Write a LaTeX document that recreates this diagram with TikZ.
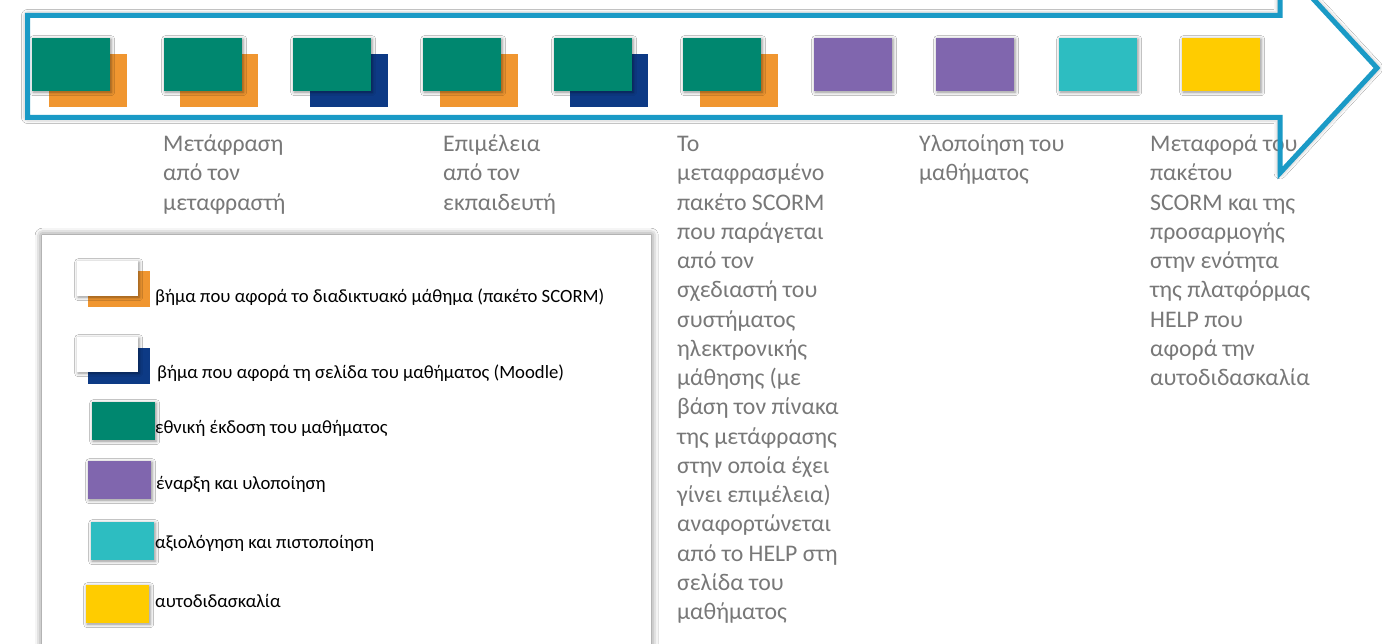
\documentclass[tikz,border=0pt]{standalone}
\usepackage{fontspec}
\setmainfont{Carlito}
\usetikzlibrary{shadows.blur}
\definecolor{cgreen}{RGB}{0,135,111}
\definecolor{corange}{RGB}{240,150,48}
\definecolor{cnavy}{RGB}{13,58,133}
\definecolor{cpurple}{RGB}{128,102,174}
\definecolor{ccyan}{RGB}{45,189,193}
\definecolor{cyellow}{RGB}{255,204,0}
\definecolor{carrow}{RGB}{26,154,198}
\definecolor{ctext}{RGB}{120,120,120}
\begin{document}
\begin{tikzpicture}[x=1pt,y=-1pt,
  box/.style={rectangle, inner sep=0pt, minimum width=78pt, minimum height=53pt, anchor=north west},
  sbox/.style={box, blur shadow={shadow xshift=1pt, shadow yshift=-1pt, shadow blur radius=3.5pt, shadow opacity=45}},
  lbox/.style={rectangle, inner sep=0pt, minimum width=62pt, minimum height=36pt, anchor=north west},
  slbox/.style={lbox, blur shadow={shadow xshift=1pt, shadow yshift=-1pt, shadow blur radius=3.5pt, shadow opacity=45}},
  lab/.style={anchor=north west, inner sep=0pt, align=left, text=ctext, font=\fontsize{23.8}{29.25}\selectfont},
  ltxt/.style={anchor=west, inner sep=0pt, text=black, font=\fontsize{18.7}{22}\selectfont},
]
\useasboundingbox (0,0) rectangle (1382,644);
\fill[white] (0,0) rectangle (1382,644);

% arrow body (fill + shadow)
\path[fill=white, blur shadow={shadow xshift=0pt, shadow yshift=0pt, shadow blur radius=6pt, shadow opacity=50}]
  (27.5,15.5) -- (1280,15.5) -- (1280,-37) -- (1377,68) -- (1280,173) -- (1280,117.5) -- (27.5,117.5) -- cycle;

% legend panel
\node[rectangle, draw=none, fill=white, anchor=north west, inner sep=0pt, minimum width=609pt, minimum height=430pt,
  blur shadow={shadow xshift=0pt, shadow yshift=0pt, shadow blur radius=7pt, shadow opacity=60}] (legend) at (42,235) {};

% top step boxes
\node[box, fill=corange] (b1b) at (49,54) {};
\node[sbox, fill=cgreen] (b1) at (32,38) {};
\node[box, fill=corange] (b2b) at (180,54) {};
\node[sbox, fill=cgreen] (b2) at (164,38) {};
\node[box, fill=cnavy] (b3b) at (310,54) {};
\node[sbox, fill=cgreen] (b3) at (293,38) {};
\node[box, fill=corange] (b4b) at (440,54) {};
\node[sbox, fill=cgreen] (b4) at (423,38) {};
\node[box, fill=cnavy] (b5b) at (570,54) {};
\node[sbox, fill=cgreen] (b5) at (554,38) {};
\node[box, fill=corange] (b6b) at (700,54) {};
\node[sbox, fill=cgreen] (b6) at (683,38) {};
\node[sbox, fill=cpurple] (b7) at (814,38) {};
\node[sbox, fill=cpurple] (b8) at (936,38) {};
\node[sbox, fill=ccyan] (b9) at (1059,38) {};
\node[sbox, fill=cyellow] (b10) at (1182,38) {};

% labels under the arrow
\node[lab] (t1) at (163,131) {\strut Μετάφραση\\από τον\\μεταφραστή};
\node[lab] (t2) at (443,131) {\strut Επιμέλεια\\από τον\\εκπαιδευτή};
\node[lab] (t3) at (677,131) {\strut Το\\μεταφρασμένο\\πακέτο SCORM\\που παράγεται\\από τον\\σχεδιαστή του\\συστήματος\\ηλεκτρονικής\\μάθησης (με\\βάση τον πίνακα\\της μετάφρασης\\στην οποία έχει\\γίνει επιμέλεια)\\αναφορτώνεται\\από το HELP στη\\σελίδα του\\μαθήματος};
\node[lab] (t4) at (919,131) {\strut Υλοποίηση του\\μαθήματος};
\node[lab] (t5) at (1150,131) {\strut Μεταφορά του\\πακέτου\\SCORM και της\\προσαρμογής\\στην ενότητα\\της πλατφόρμας\\HELP που\\αφορά την\\αυτοδιδασκαλία};

% arrow outline on top
\draw[carrow, line width=5pt, line join=miter]
  (27.5,15.5) -- (1280,15.5) -- (1280,-37) -- (1377,68) -- (1280,173) -- (1280,117.5) -- (27.5,117.5) -- cycle;

% legend items
\node[lbox, fill=corange] (l1b) at (88,271) {};
\node[slbox, fill=white, minimum width=61pt, minimum height=35pt] (l1) at (77,261) {};
\node[ltxt] (l1t) at (155,297) {βήμα που αφορά το διαδικτυακό μάθημα (πακέτο SCORM)};

\node[lbox, fill=cnavy] (l2b) at (88,348) {};
\node[slbox, fill=white, minimum width=61pt, minimum height=35pt] (l2) at (77,337) {};
\node[ltxt] (l2t) at (157,373) {βήμα που αφορά τη σελίδα του μαθήματος (Moodle)};

\node[slbox, fill=cgreen, minimum width=63pt, minimum height=38pt] (l3) at (92,402) {};
\node[ltxt] (l3t) at (155,428) {εθνική έκδοση του μαθήματος};

\node[slbox, fill=cpurple, minimum width=63pt, minimum height=38pt] (l4) at (88,461) {};
\node[ltxt] (l4t) at (156,484) {έναρξη και υλοποίηση};

\node[slbox, fill=ccyan, minimum width=63pt, minimum height=38pt] (l5) at (91,522) {};
\node[ltxt] (l5t) at (155,543) {αξιολόγηση και πιστοποίηση};

\node[slbox, fill=cyellow, minimum width=63pt, minimum height=38pt] (l6) at (86,585) {};
\node[ltxt] (l6t) at (155,601) {αυτοδιδασκαλία};
\end{tikzpicture}
\end{document}
